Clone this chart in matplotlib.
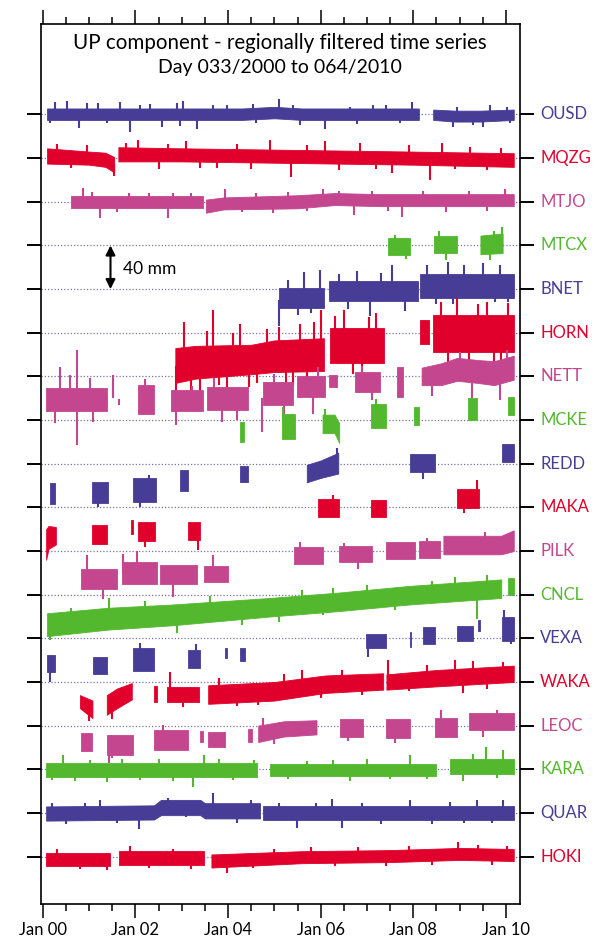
import matplotlib
matplotlib.use('Agg')
import matplotlib.pyplot as plt
from matplotlib.ticker import MultipleLocator, FixedLocator

plt.rcParams['font.family'] = ['Lato', 'DejaVu Sans']

# station order, top to bottom; baselines are 40 mm apart
STATIONS = ['OUSD', 'MQZG', 'MTJO', 'MTCX', 'BNET', 'HORN', 'NETT', 'MCKE', 'REDD',
            'MAKA', 'PILK', 'CNCL', 'VEXA', 'WAKA', 'LEOC', 'KARA', 'QUAR', 'HOKI']
SPACING = 40

BLUE = '#473d96'
RED = '#e1002b'
PINK = '#c4468f'
GREEN = '#54b82f'
COLORS = [BLUE, RED, PINK, GREEN]

# segments: lists of (year, low mm, high mm) knots, relative to the station line
# spikes: (year, from mm, to mm)
ousd = [[(2000.09, -5, 5.5), (2004.3, -5, 5.5), (2005.0, -3.5, 7), (2005.6, -5, 5.5), (2008.12, -5, 5.5)],
        [(2008.43, -5, 4.5), (2008.9, -6.5, 3.5), (2009.45, -6.5, 3.5), (2010.17, -5, 4.5)]]
ousd_spikes = [(2000.15, 0, -8), (2000.26, 0, 11.8), (2000.51, 0, 12.7), (2000.77, 0, -12.7),
               (2000.95, 0, 10.8), (2001.2, 0, 10.2), (2001.38, 0, -8), (2001.67, 0, 11.8),
               (2001.88, 0, -15.8), (2002.1, 0, 8.7), (2002.31, 0, 9.6), (2002.57, 0, -11.5),
               (2002.89, 0, 10.8), (2002.96, 0, -10.5), (2003.02, 0, 12.7), (2003.32, 0, -13.6),
               (2003.68, 0, 8.7), (2003.97, 0, 8.7), (2004.54, 0, 9.6), (2004.6, 0, -8),
               (2005.09, 0, 13.9), (2005.41, 0, 8.7), (2005.55, 0, -9.6), (2006.09, 0, -13.6),
               (2006.63, 0, 7.2), (2006.78, 0, -9), (2007.14, 0, 8.7), (2007.42, 0, 8.7),
               (2007.71, 0, -8), (2007.97, 0, 11.8), (2008.86, 0, -11.8), (2008.94, 0, 7),
               (2009.3, 0, -9.6), (2009.51, 0, -11.2), (2009.66, 0, 8.7), (2010.02, 0, 7.2),
               (2010.09, 0, -8)]

mqzg = [[(2000.09, -5, 9), (2001.0, -6, 6), (2001.35, -8, 5), (2001.54, -13, 1)],
        [(2001.63, -3, 10), (2003.0, -3, 9), (2005.5, -4.5, 7.5), (2008.0, -6, 6), (2010.17, -8, 4.5)]]
mqzg_spikes = [(2000.3, 2, 13), (2000.6, 0, -9), (2000.95, 2, 12), (2001.54, -5, -16.3),
               (2001.8, 0, 14), (2002.06, 2, 16.7), (2002.5, 0, -10), (2002.7, 2, 13),
               (2003.1, 2, 16), (2003.4, 0, -9), (2003.75, 0, -9.3), (2004.2, 2, 13),
               (2004.5, 0, -10), (2004.9, 1, 16.7), (2005.35, 0, -17.6), (2005.7, 0, 12),
               (2006.09, 1, 16), (2006.4, 0, -11), (2006.85, 0, 13.6), (2007.2, 0, -10),
               (2007.55, 0, -13.9), (2007.9, 0, 12), (2008.36, 0, -20), (2008.61, 0, 14.2),
               (2008.9, 0, -10), (2009.23, 0, 10), (2009.59, 0, -10.8), (2009.9, 0, 9)]

mtjo = [[(2000.6, -6, 5.5), (2003.45, -6, 5.5)],
        [(2003.52, -10, 2), (2003.9, -7, 4), (2005.5, -6, 6), (2006.3, -3, 8), (2007.3, -4, 7),
         (2010.17, -4, 7)]]
mtjo_spikes = [(2000.87, 0, 13), (2001.05, 0, 9), (2001.23, 0, -15.3), (2001.6, 0, -9),
               (2001.87, 0, 8.2), (2002.3, 0, 8), (2002.71, 0, -14.4), (2002.82, 0, 7.6),
               (2003.2, 0, 8), (2003.93, 0, 11.3), (2004.3, 0, -9), (2004.6, 0, 8),
               (2004.98, 0, -10.7), (2005.3, 0, 9), (2005.7, 0, -8), (2006.04, 0, 11.9),
               (2006.4, 0, 10), (2006.71, 0, -12.2), (2007.1, 0, 10), (2007.45, 0, -8),
               (2007.75, 0, -13.7), (2008.2, 0, 10), (2008.7, 0, -9), (2009.2, 0, 10),
               (2009.6, 0, -8), (2009.98, 0, 11.3)]

mtcx = [[(2007.46, -9, 7), (2007.92, -9, 7)],
        [(2008.45, -7, 9), (2008.94, -7, 9)],
        [(2009.45, -8, 9), (2009.93, -7, 11)]]
mtcx_spikes = [(2007.6, 0, 10), (2007.85, 0, -12), (2008.55, 0, 13), (2008.71, 0, -13),
               (2009.66, 0, -13), (2009.75, 0, 13), (2009.91, 0, 17)]

bnet = [[(2005.11, -17, 1), (2006.07, -17, 1)],
        [(2006.17, -11, 7), (2008.11, -11, 7)],
        [(2008.15, -8, 14), (2010.17, -8, 14)]]
bnet_spikes = [(2005.11, -10, -34), (2005.3, -8, 8), (2005.5, -8, -24), (2005.63, 0, 16),
               (2005.8, -8, -22), (2005.99, 0, 17.5), (2006.4, 0, 14), (2006.6, 0, -18),
               (2006.78, 0, 17), (2007.06, 0, -25), (2007.3, 0, 15), (2007.53, 0, 22),
               (2007.82, 0, -20), (2008.3, 3, 22), (2008.5, 3, -14), (2008.76, 3, 25),
               (2008.86, 0, -14), (2009.1, 3, 22), (2009.51, 3, 24), (2009.77, 0, -12),
               (2009.87, 3, 22), (2010.05, 3, -12)]

horn = [[(2002.86, -46, -14), (2003.3, -42, -12), (2004.5, -38, -11), (2005.0, -36, -7),
         (2006.07, -35, -5)],
        [(2006.2, -28, 4), (2007.37, -28, 4)],
        [(2008.15, -10, 12), (2008.35, -10, 12)],
        [(2008.43, -18, 16), (2010.17, -18, 16)]]
horn_spikes = [(2002.88, -30, -64), (2003.05, -20, 10), (2003.2, -20, -55), (2003.4, -30, -63),
               (2003.55, -20, 2), (2003.68, -20, 21), (2003.8, -20, -48), (2003.97, -30, -52),
               (2004.1, -20, 0), (2004.26, -20, 8), (2004.45, -20, -50), (2004.62, -30, -46),
               (2004.83, -20, 3), (2005.1, -20, 5), (2005.25, -20, -47), (2005.41, -30, -49),
               (2005.55, -20, 8), (2005.7, -30, -46), (2005.85, -20, 10), (2006.0, -20, 21),
               (2006.3, -10, 15), (2006.5, -10, 21), (2006.7, -10, -38), (2006.9, -10, -40),
               (2007.05, -10, 14), (2007.2, -10, 18), (2008.6, 0, 28), (2008.75, 0, -28),
               (2008.94, 0, 31.6), (2009.2, 0, -26), (2009.4, 0, 26), (2009.6, 0, 28),
               (2009.75, 0, -28), (2009.9, 0, -25), (2010.05, 0, 27)]

nett = [[(2000.07, -32, -11), (2001.38, -32, -11)],
        [(2002.06, -34, -8), (2002.4, -34, -8)],
        [(2002.76, -32, -12.5), (2003.45, -32, -12.5)],
        [(2003.54, -31, -9.4), (2004.44, -31, -9.4)],
        [(2004.75, -26, -5), (2005.41, -26, -5)],
        [(2005.48, -18.6, 0), (2006.09, -18.6, 0)],
        [(2006.17, -9.4, 1.3), (2006.35, -9.4, 1.3)],
        [(2006.74, -14, 4), (2007.28, -14, 4)],
        [(2007.64, -18.6, 9), (2007.78, -18.6, 9)],
        [(2008.18, -8, 8), (2008.6, -8, 12), (2008.95, -4, 17), (2009.4, -6, 15),
         (2009.75, -8, 14), (2010.17, -3, 19)]]
nett_spikes = [(2000.26, -25, -43), (2000.37, -20, 9), (2000.59, -20, 1.3), (2000.73, 24, -63),
               (2001.02, -20, -1.8), (2001.09, -25, -41.5), (2001.52, 1, -20), (2001.65, -21, -26),
               (2002.2, -20, -2), (2002.87, -25, -44.5), (2003.21, -20, -9), (2003.7, -20, -1),
               (2003.86, -25, -41.5), (2004.2, -20, -40), (2004.73, -20, -50.7), (2005.0, -15, 2),
               (2005.2, -15, -35), (2005.84, -10, -34), (2005.95, -10, 9), (2006.9, 0, 10),
               (2007.1, 0, -22), (2008.4, 0, -18), (2009.01, 5, 22.7), (2009.26, 0, -20),
               (2009.87, 0, -21.7), (2010.02, 5, 24)]

mcke = [[(2004.26, -20, -1.5), (2004.34, -20, -1.5)],
        [(2005.16, -17, 6), (2005.45, -17, 6)],
        [(2006.04, -12, 5), (2006.3, -12, 5), (2006.4, -21, -3)],
        [(2007.08, -7.5, 15), (2007.42, -7.5, 15)],
        [(2008.02, -4.5, 12), (2008.13, -4.5, 12)],
        [(2009.19, 0, 20), (2009.38, 0, 20)],
        [(2010.05, 5, 21), (2010.17, 5, 21)]]
mcke_spikes = [(2005.18, 0, 12), (2006.1, 0, 10), (2007.2, 0, 19)]

redd = [[(2000.15, -37, -18), (2000.26, -37, -18)],
        [(2001.07, -36, -17), (2001.41, -36, -17)],
        [(2001.94, -35, -13), (2002.44, -35, -13)],
        [(2002.96, -25, -6), (2003.14, -25, -6)],
        [(2004.26, -17, -2), (2004.44, -17, -2)],
        [(2005.7, -17, -1), (2006.0, -13, 3), (2006.38, -9, 10)],
        [(2007.93, -8, 9), (2008.47, -8, 9)],
        [(2009.92, 2, 18), (2010.17, 2, 18)]]
redd_spikes = [(2001.2, -25, -40), (2002.1, -20, -40), (2002.3, -20, -10), (2006.36, 0, 14),
               (2008.2, 0, -14)]

maka = [[(2000.07, -48, -20), (2000.12, -38, -17), (2000.28, -34, -18)],
        [(2001.05, -34, -16), (2001.38, -34, -16)],
        [(2001.9, -24, -12), (2001.95, -24, -12)],
        [(2002.06, -31, -13), (2002.42, -31, -13)],
        [(2003.14, -30, -13), (2003.39, -30, -13)],
        [(2005.95, -8.5, 8), (2006.4, -8.5, 8)],
        [(2007.08, -8.5, 6.8), (2007.42, -8.5, 6.8)],
        [(2008.95, -1, 17), (2009.43, -1, 17)]]
maka_spikes = [(2002.2, -20, -36), (2003.35, -25, -39), (2006.27, 0, 11), (2009.1, 5, -5),
               (2009.37, 5, 25)]

pilk = [[(2000.82, -35, -16), (2001.61, -35, -16)],
        [(2001.7, -30, -10), (2002.47, -30, -10)],
        [(2002.53, -30, -13), (2003.32, -30, -13)],
        [(2003.47, -28, -14), (2004.0, -28, -14)],
        [(2005.42, -12, 4), (2006.06, -12, 4)],
        [(2006.39, -10, 5), (2007.1, -10, 5)],
        [(2007.42, -7, 8), (2008.04, -7, 8)],
        [(2008.13, -6, 9), (2008.58, -6, 9)],
        [(2008.65, -3, 14), (2009.9, -3, 14), (2010.17, 0, 19)]]
pilk_spikes = [(2000.95, -20, -4), (2001.3, -30, -44), (2001.73, -20, -3), (2002.03, -15, 0),
               (2002.8, -20, -42), (2003.67, -15, -4), (2005.55, 0, 8), (2006.5, 0, 7),
               (2006.8, 0, -16), (2008.3, 0, 12), (2009.55, 0, 17)]

cncl = [[(2000.09, -38, -17), (2001.4, -32, -12), (2002.8, -28, -9), (2004.9, -20, -3),
         (2006.4, -15, 2), (2007.9, -9, 8), (2009.9, -3, 14)],
        [(2010.05, 0, 15), (2010.17, 0, 15)]]
cncl_spikes = [(2000.15, -30, -41.6), (2000.6, -25, -12), (2001.42, -25, -3), (2002.2, -20, -6),
               (2002.89, -25, -35), (2003.6, -15, -1), (2004.3, -15, -28), (2005.09, -15, -24.7),
               (2005.6, -10, 4), (2006.06, -10, -18.6), (2006.27, -5, 5.8), (2007.0, -5, 9),
               (2007.6, 0, -14), (2008.4, 0, 13), (2008.9, 0, 16), (2009.37, 0, -22),
               (2009.6, 5, 18)]

vexa = [[(2000.08, -31, -15), (2000.26, -31, -15)],
        [(2001.09, -33, -17), (2001.38, -33, -17)],
        [(2001.95, -30, -9), (2002.39, -30, -9)],
        [(2003.14, -27, -11), (2003.39, -27, -11)],
        [(2003.93, -18, -9), (2003.98, -18, -9)],
        [(2004.26, -21, -9), (2004.37, -21, -9)],
        [(2006.98, -9, 4), (2007.42, -9, 4)],
        [(2007.93, -8, 6), (2007.96, -8, 6)],
        [(2008.2, -5, 10), (2008.47, -5, 10)],
        [(2008.95, -2, 11), (2009.3, -2, 11)],
        [(2009.4, 7, 17), (2009.45, 7, 17)],
        [(2009.91, -2, 20), (2010.17, -2, 20)]]
vexa_spikes = [(2000.15, -20, -40), (2002.1, -20, -4), (2003.3, -20, -5), (2007.03, -5, -17),
               (2009.95, 10, 26), (2010.1, 5, -5)]

waka = [[(2000.8, -24, -12), (2001.07, -33, -17)],
        [(2001.38, -30, -12), (2001.6, -24, -6), (2001.92, -16, -1)],
        [(2002.39, -18, -4), (2002.46, -18, -4)],
        [(2002.67, -18, -5), (2003.38, -18, -5)],
        [(2003.57, -20, -3), (2005.0, -17, 0), (2006.1, -10, 6), (2007.35, -7, 8)],
        [(2007.42, -7, 7), (2008.5, -4, 11), (2010.17, 0, 15)]]
waka_spikes = [(2001.0, -25, -36), (2001.5, -20, -34), (2002.74, -10, 9.5), (2003.03, -10, -22.6),
               (2003.8, -10, 4), (2004.2, -10, -22), (2004.65, -10, -21), (2005.2, -5, 7),
               (2005.59, 0, 11), (2006.0, 0, -15), (2006.45, 0, 11), (2006.9, 0, -12),
               (2007.46, 5, 20), (2007.9, 5, -8), (2008.3, 5, 16), (2008.9, 5, 20),
               (2009.08, 5, -10.4), (2009.3, 5, 19), (2009.6, 5, -6), (2009.94, 5, 18)]

leoc = [[(2000.82, -23, -7), (2001.07, -23, -7)],
        [(2001.38, -27, -9), (2001.95, -27, -9)],
        [(2002.39, -22, -4), (2003.14, -22, -4)],
        [(2003.39, -15, -5), (2003.46, -15, -5)],
        [(2003.57, -20, -6), (2003.93, -20, -6)],
        [(2004.44, -15, -3), (2004.51, -15, -3)],
        [(2004.65, -15, 0), (2005.2, -10, 4), (2005.91, -8, 5)],
        [(2006.42, -10, 6), (2006.92, -10, 6)],
        [(2007.42, -11, 6), (2007.93, -11, 6)],
        [(2008.47, -10, 7), (2008.95, -10, 7)],
        [(2009.21, -4, 12), (2010.17, -4, 12)]]
leoc_spikes = [(2001.42, -20, -34), (2001.5, -20, -30), (2002.6, -15, 1), (2004.75, 0, 7),
               (2005.0, 0, -17), (2006.6, 0, -14), (2007.6, 0, -16), (2008.6, 0, 14),
               (2009.5, 0, -10), (2009.8, 0, 14)]

kara = [[(2000.07, -7, 6), (2004.63, -7, 6)],
        [(2004.9, -6, 5), (2008.5, -6, 5)],
        [(2008.79, -4, 9), (2010.17, -4, 9)]]
kara_spikes = [(2000.2, 0, -10), (2000.44, 0, 13), (2000.7, 0, -11), (2001.02, 0, 8.5),
               (2001.38, 0, -11.5), (2001.7, 0, 9), (2002.1, 0, -10), (2002.5, 0, 9),
               (2002.8, 0, -11), (2003.25, 0, -16), (2003.47, 0, 13), (2003.8, 0, 9),
               (2004.11, 0, -10), (2004.55, 0, 8.5), (2005.3, 0, -9), (2005.7, 0, 8),
               (2006.27, 0, 8.5), (2006.63, 0, -11), (2007.0, 0, 9), (2007.5, 0, -9),
               (2007.93, 0, 13), (2008.3, 0, -9), (2009.08, 0, -11), (2009.3, 2, 14),
               (2009.58, 2, 20.8), (2009.8, 2, -8), (2009.94, 2, 17.7)]

quar = [[(2000.07, -7, 6), (2002.4, -6, 7), (2002.55, -2, 12), (2003.4, -2, 12), (2003.5, -5, 9),
         (2004.69, -5, 9)],
        [(2004.75, -6, 6), (2010.17, -6, 6)]]
quar_spikes = [(2000.2, 0, 9), (2000.5, 0, -10), (2000.9, 0, 9), (2001.23, 0, 11.8),
               (2001.6, 0, -9), (2002.08, 0, -15), (2002.7, 0, 14), (2003.1, 0, -4),
               (2003.68, 0, 18), (2004.2, 0, -9), (2004.5, 0, 12), (2005.1, 0, 9),
               (2005.48, 0, -14), (2005.9, 0, 9), (2006.24, 0, 13), (2006.45, 0, -13.5),
               (2006.9, 0, 9), (2007.3, 0, -10), (2007.93, 0, 11.8), (2008.4, 0, -10),
               (2008.8, 0, 10), (2009.1, 0, -9), (2009.37, 0, 12), (2009.7, 0, -9),
               (2009.94, 0, 11.8)]

hoki = [[(2000.07, -9, 3), (2001.45, -9, 3)],
        [(2001.65, -8, 5), (2003.47, -8, 5)],
        [(2003.64, -10, 2), (2005.6, -6, 5), (2007.5, -5, 6), (2009.0, -3, 8), (2010.17, -4, 7)]]
hoki_spikes = [(2000.3, 0, 7), (2000.8, 0, -11), (2001.38, 0, -12), (2001.88, 0, 9.7),
               (2002.3, 0, -10), (2002.8, 0, 7), (2003.2, 0, -11), (2003.97, 0, -15.3),
               (2004.54, 0, -10.7), (2005.0, 0, 7), (2005.8, 0, 9), (2006.3, 0, -9),
               (2006.8, 0, 9), (2007.4, 0, -9), (2007.9, 0, 10), (2008.4, 0, -8),
               (2008.97, 0, 13.7), (2009.4, 0, 11), (2009.7, 0, -8), (2010.02, 0, 9.7)]

SERIES = [(ousd, ousd_spikes), (mqzg, mqzg_spikes), (mtjo, mtjo_spikes), (mtcx, mtcx_spikes),
          (bnet, bnet_spikes), (horn, horn_spikes), (nett, nett_spikes), (mcke, mcke_spikes),
          (redd, redd_spikes), (maka, maka_spikes), (pilk, pilk_spikes), (cncl, cncl_spikes),
          (vexa, vexa_spikes), (waka, waka_spikes), (leoc, leoc_spikes), (kara, kara_spikes),
          (quar, quar_spikes), (hoki, hoki_spikes)]

YEAR_TICKS = [2000, 2002, 2004, 2006, 2008, 2010]
YEAR_LABELS = ['Jan 00', 'Jan 02', 'Jan 04', 'Jan 06', 'Jan 08', 'Jan 10']

fig = plt.figure(figsize=(5.98, 9.41), dpi=100)
ax = fig.add_axes((41 / 598, 1 - 904 / 941, 479 / 598, 880 / 941))

for i, (name, (segs, spikes)) in enumerate(zip(STATIONS, SERIES)):
	base = -SPACING * i
	col = COLORS[i % 4]
	ax.axhline(base, color='#7474b0', lw=0.9, ls=(0, (1, 1.6)), zorder=1)
	for seg in segs:
		t = [k[0] for k in seg]
		lo = [base + k[1] for k in seg]
		hi = [base + k[2] for k in seg]
		ax.fill_between(t, lo, hi, color=col, lw=0.6, zorder=2 + i)
	for (t, a, b) in spikes:
		ax.vlines(t, base + a, base + b, color=col, lw=1.5, zorder=2 + i)
	ax.text(2010.74, base, name, color=col, fontsize=12, va='center', ha='left', clip_on=False)

ax.set_xlim(1999.959, 2010.305)
ax.set_ylim(-723.4, 82.9)

ax.xaxis.set_major_locator(FixedLocator(YEAR_TICKS))
ax.set_xticklabels(YEAR_LABELS, fontsize=12)
ax.xaxis.set_minor_locator(MultipleLocator(0.5))
ax.tick_params(axis='x', which='major', direction='out', length=10, width=1.1, top=True, pad=3)
ax.tick_params(axis='x', which='minor', direction='out', length=5, width=1.1, top=True)

ax.set_yticks([-SPACING * i for i in range(len(STATIONS))])
ax.tick_params(axis='y', which='major', direction='out', length=10, width=1.4,
               left=True, right=True, labelleft=False)
for sp in ax.spines.values():
	sp.set_linewidth(1.2)

# scale arrow
ax.annotate('', xy=(2001.46, -160), xytext=(2001.46, -120),
            arrowprops=dict(arrowstyle='<|-|>', color='k', lw=1.5, mutation_scale=14,
                            shrinkA=0, shrinkB=0))
ax.text(2001.74, -141.9, '40 mm', fontsize=12.5, va='center', ha='left')

fig.text(280 / 598, 1 - 49 / 941, 'UP component - regionally filtered time series',
         fontsize=14.8, ha='center', va='baseline')
fig.text(280 / 598, 1 - 73 / 941, 'Day 033/2000 to 064/2010',
         fontsize=14.0, ha='center', va='baseline')

fig.savefig('out.png', dpi=100)
